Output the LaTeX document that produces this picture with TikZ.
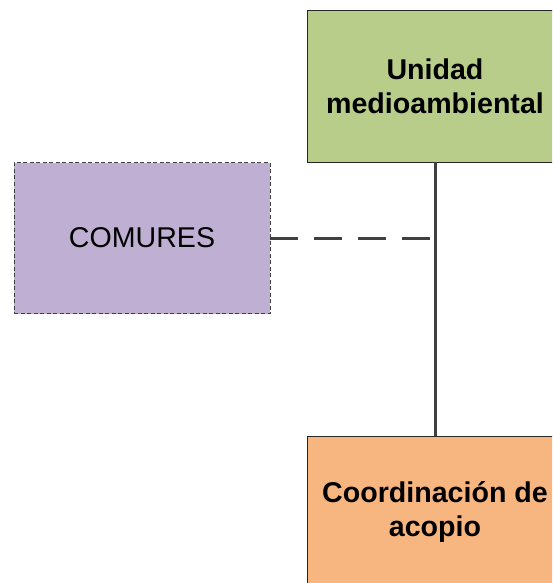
\documentclass[tikz,border=0pt]{standalone}
\usepackage{fontspec}
\setmainfont{Liberation Sans}
\definecolor{boxgreen}{RGB}{185,205,138}
\definecolor{boxpurple}{RGB}{191,176,211}
\definecolor{boxorange}{RGB}{247,181,127}
\definecolor{linegray}{RGB}{64,64,64}
\tikzset{
  unitbox/.style={draw=black!85, line width=0.9pt, minimum width=256pt, inner sep=0pt, align=center,
    font=\fontsize{28.6}{34}\selectfont},
  dashbox/.style={draw=linegray, line width=0.9pt, dash pattern=on 4pt off 2.5pt, minimum width=256pt,
    inner sep=0pt, align=center, font=\fontsize{28.6}{34}\selectfont},
  solidlink/.style={draw=linegray, line width=3pt},
  dashlink/.style={draw=linegray, line width=3pt, dash pattern=on 28pt off 16pt}
}
\begin{document}
\begin{tikzpicture}[x=1pt,y=-1pt]
\useasboundingbox (0,0) rectangle (552,583);
\clip (0,0) rectangle (552,583);
\node[unitbox, fill=boxgreen, minimum height=152pt] (unidad) at (435,86) {\bfseries Unidad\\\bfseries medioambiental};
\node[dashbox, fill=boxpurple, minimum height=151pt] (comures) at (142,238) {COMURES};
\node[unitbox, fill=boxorange, minimum height=152pt] (coord) at (435,512) {\bfseries Coordinación de\\\bfseries acopio};
\draw[solidlink] (unidad.south) -- (coord.north);
\coordinate (junction) at (comures.east -| unidad.south);
\draw[dashlink] (comures.east) -- (junction);
\end{tikzpicture}
\end{document}
